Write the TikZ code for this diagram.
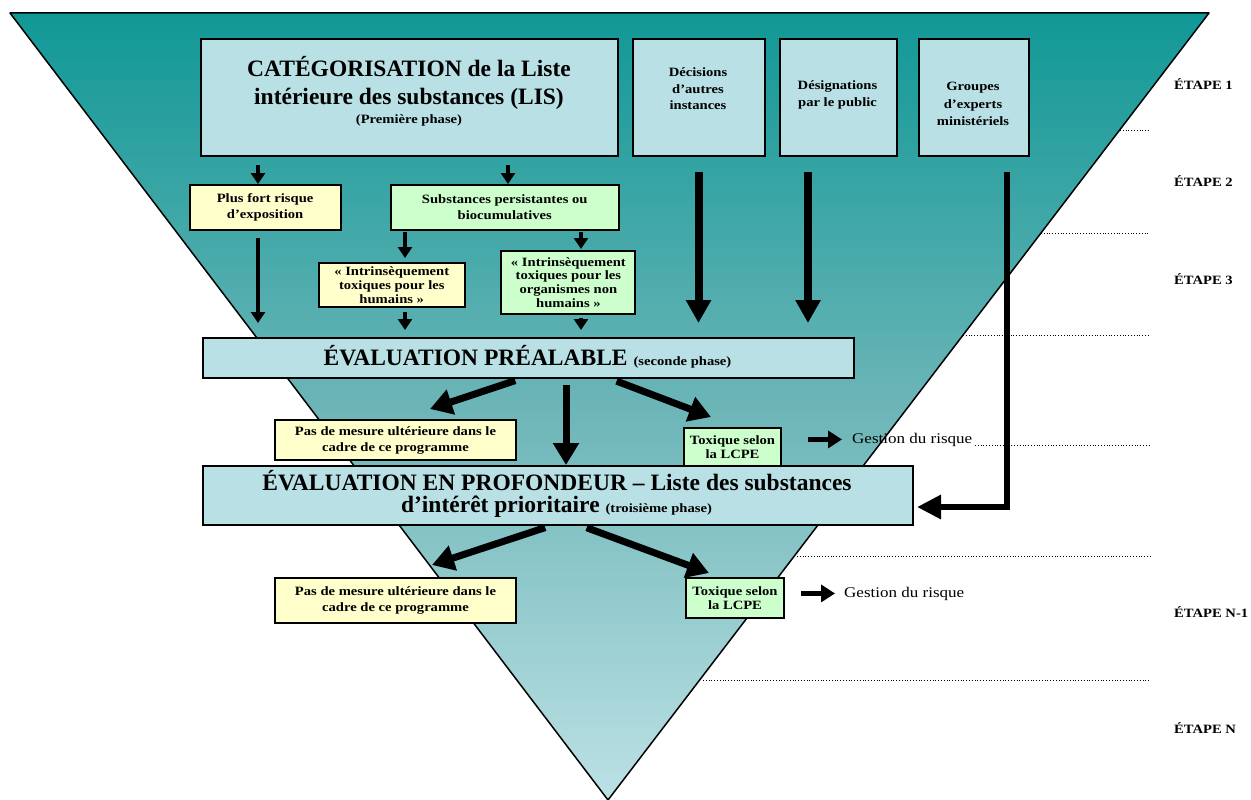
\documentclass[tikz,border=0pt]{standalone}
\usepackage{fontspec}
\setmainfont{Liberation Serif}
\newfontfamily\smfont[FakeStretch=1.15]{Liberation Serif}
\usetikzlibrary{arrows.meta}
\definecolor{boxblue}{RGB}{185,224,228}
\definecolor{boxyellow}{RGB}{255,255,204}
\definecolor{boxgreen}{RGB}{204,255,204}
\definecolor{tealtop}{RGB}{16,152,150}
\definecolor{tealmid}{RGB}{108,181,183}
\definecolor{tealbot}{RGB}{188,225,229}
\newcommand{\smtext}{\smfont\bfseries\fontsize{12.7}{16}\selectfont}
\newcommand{\smtight}{\smfont\bfseries\fontsize{12.7}{13.8}\selectfont}
\newcommand{\bigtext}{\bfseries\fontsize{23.5}{26}\selectfont}
\tikzset{
  pbox/.style={draw=black, line width=2pt, fill=boxblue, anchor=north west, inner sep=0pt, align=center, font=\smtext},
  ybox/.style={pbox, fill=boxyellow},
  gbox/.style={pbox, fill=boxgreen},
  txt/.style={inner sep=0pt, align=center},
  sarrow/.style={line width=4pt, -{Triangle[width=14pt,length=11pt]}},
  larrow/.style={line width=8pt, -{Triangle[width=24pt,length=23pt]}},
  darrow/.style={line width=7pt, -{Triangle[width=25pt,length=22pt]}},
  garrow/.style={line width=5.5pt, -{Triangle[width=17pt,length=14pt]}},
  guide/.style={dotted, line width=0.8pt},
  etape/.style={font=\smtext, anchor=base west, inner sep=0pt},
  gest/.style={font=\smfont\fontsize{14.8}{17}\selectfont, anchor=base west, inner sep=0pt},
}
\begin{document}
\begin{tikzpicture}[x=1pt,y=-1pt]
\useasboundingbox (0,0) rectangle (1251,800);
% funnel
\shade[top color=tealtop, bottom color=tealbot, middle color=tealmid] (10,13) -- (1209,13) -- (608,800) -- cycle;
\draw[line width=1.5pt, line join=round] (10,13) -- (1209,13) -- (608,800) -- cycle;

% dotted stage separators
\draw[guide] (1120,130) -- (1150,130);
\draw[guide] (1041,233) -- (1150,233);
\draw[guide] (963,335) -- (1150,335);
\draw[guide] (975,445) -- (1150,445);
\draw[guide] (797,556) -- (1150,556);
\draw[guide] (703,680) -- (1150,680);

% stage labels
\node[etape] (e1) at (1174,90) {ÉTAPE 1};
\node[etape] (e2) at (1174,186) {ÉTAPE 2};
\node[etape] (e3) at (1174,284) {ÉTAPE 3};
\node[etape] (e4) at (1174,617) {ÉTAPE N-1};
\node[etape] (e5) at (1174,733) {ÉTAPE N};

% top boxes
\node[pbox, minimum width=417pt, minimum height=117pt] (cat) at (200,38) {};
\node[txt, anchor=base, font=\bigtext] (catA) at (409,77) {CATÉGORISATION de la Liste};
\node[txt, anchor=base, font=\bigtext] (catB) at (409,104) {intérieure des substances (LIS)};
\node[txt, anchor=base, font=\smtext] (catC) at (409,124) {(Première phase)};

\node[pbox, minimum width=132pt, minimum height=117pt] (dec) at (632,38) {};
\node[txt, font=\smfont\bfseries\fontsize{12.7}{16.5}\selectfont] (dect) at (698,89) {Décisions\\d’autres\\instances};
\node[pbox, minimum width=117pt, minimum height=117pt] (des) at (779,38) {};
\node[txt, font=\smfont\bfseries\fontsize{12.7}{17}\selectfont] (dest) at (837.5,95) {Désignations\\par le public};
\node[pbox, minimum width=110pt, minimum height=117pt] (grp) at (918,38) {};
\node[txt, font=\smfont\bfseries\fontsize{12.7}{17.5}\selectfont] (grpt) at (973,104) {Groupes\\d’experts\\ministériels};

% second level
\node[ybox, minimum width=151pt, minimum height=45pt] (pf) at (188.6,184) {Plus fort risque\\d’exposition};
\node[gbox, minimum width=227.5pt, minimum height=45pt] (sp) at (390,184) {Substances persistantes ou\\biocumulatives};
\node[ybox, font=\smtight, minimum width=146.5pt, minimum height=44pt] (ih) at (317.5,262) {« Intrinsèquement\\toxiques pour les\\humains »};
\node[gbox, font=\smtight, minimum width=134pt, minimum height=63pt] (inh) at (500.4,250) {« Intrinsèquement\\toxiques pour les\\organismes non\\humains »};

% screening assessment
\node[pbox, minimum width=651pt, minimum height=40pt] (ep) at (202,337) {};
\node[txt, anchor=base] (ept) at (527.5,365) {{\bigtext ÉVALUATION PRÉALABLE }{\smtext (seconde phase)}};

\node[ybox, minimum width=241pt, minimum height=40pt] (pm1) at (274,419) {Pas de mesure ultérieure dans le\\cadre de ce programme};
\node[gbox, font=\smtight, minimum width=97pt, minimum height=38pt] (tx1) at (683,427) {Toxique selon\\la LCPE};
\node[gest] (g1) at (852,443) {Gestion du risque};

% in-depth assessment
\node[pbox, minimum width=710pt, minimum height=59pt] (eep) at (202,465) {};
\node[txt, anchor=base, font=\bigtext] (eepA) at (557,490) {ÉVALUATION EN PROFONDEUR – Liste des substances};
\node[txt, anchor=base] (eepB) at (556.5,512) {{\bigtext d’intérêt prioritaire }{\smtext (troisième phase)}};

\node[ybox, minimum width=241pt, minimum height=45pt] (pm2) at (274,577) {Pas de mesure ultérieure dans le\\cadre de ce programme};
\node[gbox, font=\smtight, minimum width=98pt, minimum height=40pt] (tx2) at (685,577) {Toxique selon\\la LCPE};
\node[gest] (g2) at (844,597) {Gestion du risque};

% free arrow ends
\coordinate (epL) at (430,409);
\coordinate (epR) at (711,417);
\coordinate (eepL) at (432,565);
\coordinate (eepR) at (709,573);
\coordinate (gcorner) at (1007,507);

% arrows, categorization
\draw[sarrow, shorten <=8pt] (cat.south -| 258,0) -- (pf.north -| 258,0);
\draw[sarrow, shorten <=8pt] (cat.south -| 508,0) -- (sp.north -| 508,0);
\draw[sarrow, shorten <=7pt, shorten >=14pt] (pf.south -| 258,0) -- (ep.north -| 258,0);
\draw[sarrow, shorten <=1pt, shorten >=4pt] (sp.south -| 405,0) -- (ih.north -| 405,0);
\draw[sarrow, shorten <=1pt, shorten >=1pt] (sp.south -| 581,0) -- (inh.north -| 581,0);
\draw[sarrow, shorten <=4pt, shorten >=7pt] (ih.south -| 405,0) -- (ep.north -| 405,0);
\draw[sarrow, shorten <=3pt, shorten >=7pt] (inh.south -| 581,0) -- (ep.north -| 581,0);

% arrows, other sources
\draw[larrow, shorten <=15pt, shorten >=14pt] (dec.south -| 698.5,0) -- (ep.north -| 698.5,0);
\draw[larrow, shorten <=15pt, shorten >=14pt] (des.south -| 808,0) -- (ep.north -| 808,0);
\draw[line width=6.5pt, line join=miter, -{Triangle[width=23pt,length=24pt]}, shorten <=15pt, shorten >=3pt]
  (grp.south -| gcorner) -- (gcorner) -- (eep.east |- gcorner);

% arrows, screening assessment outcomes
\draw[darrow, shorten <=5pt] (ep.south -| 520,0) -- (epL);
\draw[darrow, shorten <=6pt] (ep.south -| 566,0) -- (eep.north -| 566,0);
\draw[darrow, shorten <=6pt] (ep.south -| 611,0) -- (epR);
\draw[garrow, shorten <=26pt, shorten >=10pt] (tx1.east |- g1.west) -- (g1.west);

% arrows, in-depth assessment outcomes
\draw[darrow, shorten <=5pt] (eep.south -| 550,0) -- (eepL);
\draw[darrow, shorten <=5pt] (eep.south -| 582,0) -- (eepR);
\draw[garrow, shorten <=16pt, shorten >=9pt] (tx2.east |- g2.west) -- (g2.west);
\end{tikzpicture}
\end{document}
